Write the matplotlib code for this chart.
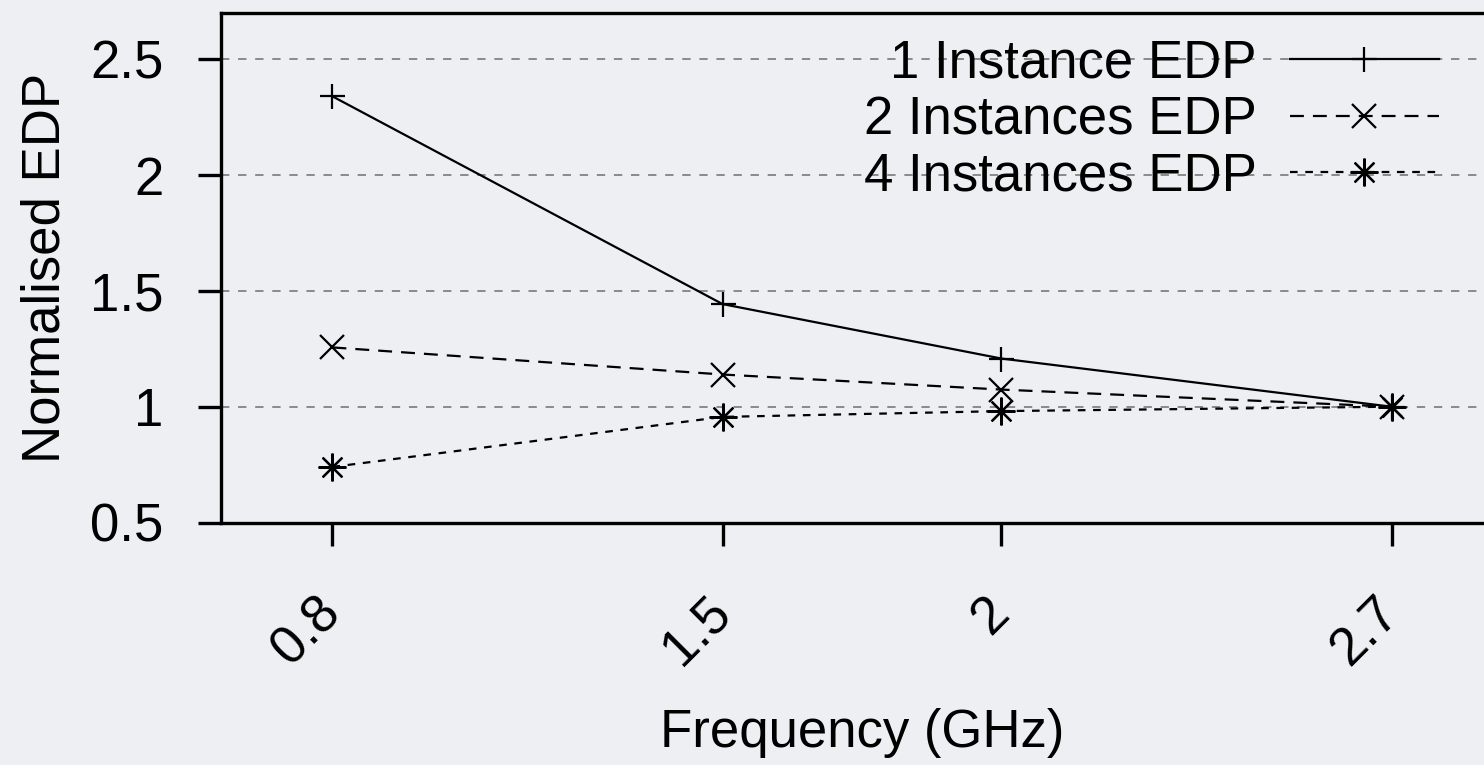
import matplotlib
matplotlib.use("Agg")
import matplotlib.pyplot as plt

plt.rcParams['font.family'] = ['Liberation Sans', 'DejaVu Sans']
plt.rcParams['lines.scale_dashes'] = False

freq = [0.8, 1.5, 2, 2.7]
freq_labels = ['0.8', '1.5', '2', '2.7']
edp_1 = [2.34, 1.443, 1.208, 1.0]
edp_2 = [1.256, 1.139, 1.074, 1.0]
edp_4 = [0.74, 0.956, 0.981, 1.0]
yticks = [0.5, 1, 1.5, 2, 2.5]
ytick_labels = ['0.5', '1', '1.5', '2', '2.5']

bg = '#eeeff2'
W, H = 1484, 765
fig = plt.figure(figsize=(W / 100, H / 100), dpi=100, facecolor=bg)
ax = fig.add_axes([221 / W, 1 - 522.5 / H, (1503 - 221) / W, (522.5 - 13) / H])
ax.set_facecolor(bg)

star = (8, 2, 0)
l1, = ax.plot(freq, edp_1, color='black', lw=1.6, marker='+', ms=18, mew=1.6,
              label='1 Instance EDP')
l2, = ax.plot(freq, edp_2, color='black', lw=1.6, ls=(0, (10, 6.5)), marker='x',
              ms=17, mew=1.6, label='2 Instances EDP')
l3, = ax.plot(freq, edp_4, color='black', lw=1.6, ls=(0, (5.5, 5.5)), marker=star,
              ms=20, mew=1.6, label='4 Instances EDP')

ax.set_xlim(0.6, 2.9)
ax.set_ylim(0.5, 2.7)
ax.set_xticks(freq)
ax.set_xticklabels(freq_labels, rotation=45, ha='right', va='center',
                   rotation_mode='anchor')
ax.set_yticks(yticks)
ax.set_yticklabels(ytick_labels)

ax.grid(axis='y', color='#6f6f6f', lw=1.1, ls=(0, (6, 6.3)))
ax.set_axisbelow(True)

for s in ['top', 'left', 'bottom']:
    ax.spines[s].set_linewidth(2.4)
ax.spines['right'].set_visible(False)

ax.tick_params(axis='both', direction='out', length=16.5, width=2.4,
               labelsize=38, colors='black')
ax.tick_params(axis='y', pad=25)
ax.tick_params(axis='x', pad=43)
ax.tick_params(top=False, right=False)

ax.set_xlabel('Frequency (GHz)', fontsize=38, labelpad=24)
ax.set_ylabel('Normalised EDP', fontsize=38, labelpad=14)

ax.legend(handles=[l1, l2, l3], markerfirst=False, frameon=False, fontsize=38,
          handlelength=2.83, handletextpad=0.62, labelspacing=0.12,
          borderpad=0, borderaxespad=0, numpoints=1,
          loc='center right', bbox_to_anchor=(1439 / W, 1 - 120 / H),
          bbox_transform=fig.transFigure)

fig.savefig('out.png', dpi=100, facecolor=bg)
